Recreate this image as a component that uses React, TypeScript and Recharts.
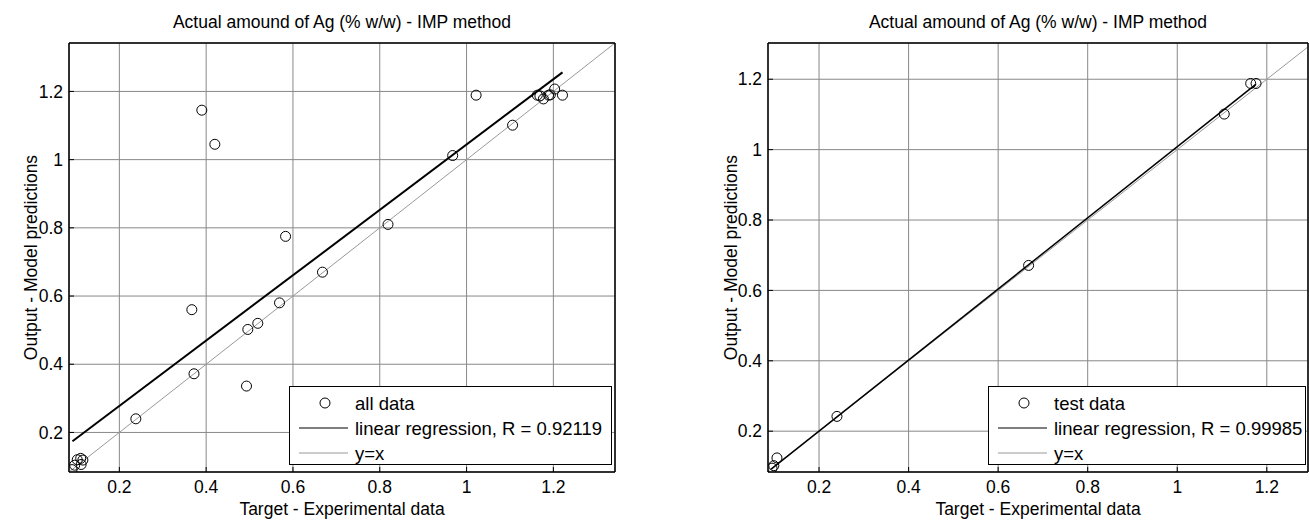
import React from 'react';
import { ComposedChart, Scatter, Line, XAxis, YAxis, CartesianGrid, Legend } from 'recharts';

const TITLE = 'Actual amound of Ag (% w/w) - IMP method';
const X_LABEL = 'Target - Experimental data';
const Y_LABEL = 'Output - Model predictions';

const ticks = [0.2, 0.4, 0.6, 0.8, 1, 1.2];

// left panel: all data
const allTarget = [0.091, 0.097, 0.103, 0.111, 0.116, 0.112, 0.238, 0.367, 0.372, 0.390, 0.420, 0.493, 0.496, 0.519, 0.569, 0.583, 0.668, 0.819, 0.968, 1.022, 1.106, 1.163, 1.169, 1.177, 1.189, 1.193, 1.203, 1.221];
const allOutput = [0.091, 0.104, 0.120, 0.124, 0.119, 0.106, 0.240, 0.560, 0.372, 1.145, 1.045, 0.336, 0.502, 0.520, 0.580, 0.775, 0.670, 0.810, 1.012, 1.189, 1.101, 1.189, 1.187, 1.178, 1.189, 1.190, 1.207, 1.189];
const allFitX = [0.092, 1.221];
const allFitY = [0.174, 1.256];
const allLimits = [0.084, 1.342];
const allR = '0.92119';

// right panel: test data
const testTarget = [0.095, 0.099, 0.106, 0.240, 0.668, 1.105, 1.164, 1.176];
const testOutput = [0.095, 0.102, 0.124, 0.242, 0.671, 1.101, 1.188, 1.188];
const testFitX = [0.093, 1.176];
const testFitY = [0.092, 1.186];
const testXLimits = [0.086, 1.292];
const testYLimits = [0.084, 1.303];
const testR = '0.99985';

const FONT = "'Liberation Sans', Arial, sans-serif";
const FS = 17.5;
const LEGEND_FS = 18.5;

const toPoints = (xs: number[], ys: number[]) => xs.map((x, i) => ({ x, y: ys[i] }));

const Circle = (p: any) => (
  <circle cx={p.cx} cy={p.cy} r={5} fill="none" stroke="#000" strokeWidth={1} />
);

function LegendBox({ name, r }: { name: string; r: string }) {
  const rows = [16, 41, 66];
  return (
    <div style={{ width: '100%', height: '100%', boxSizing: 'border-box', border: '1.5px solid #000', background: '#fff' }}>
      <svg width="100%" height="100%" style={{ display: 'block', fontFamily: FONT, fontSize: LEGEND_FS }}>
        <circle cx={35} cy={rows[0]} r={5} fill="none" stroke="#000" />
        <text x={65} y={rows[0]} dominantBaseline="central">{name}</text>
        <line x1={9} x2={58} y1={rows[1]} y2={rows[1]} stroke="#000" strokeWidth={1.2} />
        <text x={65} y={rows[1]} dominantBaseline="central">linear regression, R = {r}</text>
        <line x1={9} x2={58} y1={rows[2]} y2={rows[2]} stroke="#999" strokeWidth={1} />
        <text x={65} y={rows[2]} dominantBaseline="central">y=x</text>
      </svg>
    </div>
  );
}

const yLabel = (props: any) => {
  const vb = props.viewBox || { x: 0, y: 0, height: 0 };
  const cx = vb.x + 31;
  const cy = vb.y + vb.height / 2;
  return (
    <text x={cx} y={cy} transform={`rotate(-90 ${cx} ${cy})`} textAnchor="middle" dominantBaseline="central"
      style={{ fontFamily: FONT, fontSize: FS, fill: '#000' }}>
      {Y_LABEL}
    </text>
  );
};

type PanelProps = {
  left: number;
  width: number;
  yAxisWidth: number;
  marginRight: number;
  xLimits: number[];
  yLimits: number[];
  tx: number[];
  ty: number[];
  fx: number[];
  fy: number[];
  fitWidth: number;
  name: string;
  r: string;
  legend: { left: number; width: number };
};

function Panel(p: PanelProps) {
  const pts = toPoints(p.tx, p.ty);
  const fit = toPoints(p.fx, p.fy);
  const lo = Math.max(p.xLimits[0], p.yLimits[0]);
  const hi = Math.min(p.xLimits[1], p.yLimits[1]);
  const ident = toPoints([lo, hi], [lo, hi]);
  const plotLeft = p.yAxisWidth;
  const plotRight = p.width - p.marginRight - 1;
  const tickStyle = { fontFamily: FONT, fontSize: FS, fill: '#000' };
  const axisLine = { stroke: '#000', strokeWidth: 1.5 };
  return (
    <div style={{ position: 'absolute', left: p.left, top: 0, width: p.width, height: 523 }}>
      <div style={{ position: 'absolute', top: 12, left: plotLeft, width: plotRight - plotLeft, textAlign: 'center',
        fontFamily: FONT, fontSize: FS, lineHeight: '20px', whiteSpace: 'nowrap', zIndex: 2 }}>
        {TITLE}
      </div>
      <ComposedChart width={p.width} height={523} margin={{ top: 42, right: p.marginRight, bottom: 0, left: 0 }}>
        <CartesianGrid stroke="#888" strokeWidth={1} />
        <XAxis dataKey="x" type="number" domain={p.xLimits} allowDataOverflow ticks={ticks} height={51}
          tickSize={-5} tickMargin={14} tick={tickStyle} axisLine={axisLine} tickLine={{ stroke: '#000' }}
          label={{ value: X_LABEL, position: 'insideBottom', offset: 8, style: { fontFamily: FONT, fontSize: FS, fill: '#000' } }} />
        <XAxis xAxisId="top" orientation="top" type="number" domain={p.xLimits} allowDataOverflow ticks={ticks} height={1}
          tickSize={-5} tick={false} axisLine={axisLine} tickLine={{ stroke: '#000' }} />
        <YAxis dataKey="y" type="number" domain={p.yLimits} allowDataOverflow ticks={ticks} width={p.yAxisWidth}
          tickSize={-5} tickMargin={11} tick={tickStyle} axisLine={axisLine} tickLine={{ stroke: '#000' }}
          label={{ content: yLabel }} />
        <YAxis yAxisId="right" orientation="right" type="number" domain={p.yLimits} allowDataOverflow ticks={ticks} width={1}
          tickSize={-5} tick={false} axisLine={axisLine} tickLine={{ stroke: '#000' }} />
        <Line data={ident} dataKey="y" type="linear" stroke="#999" strokeWidth={1} dot={false} isAnimationActive={false} />
        <Line data={fit} dataKey="y" type="linear" stroke="#000" strokeWidth={p.fitWidth} dot={false} isAnimationActive={false} />
        <Scatter data={pts} dataKey="y" shape={Circle} isAnimationActive={false} />
        <Legend layout="vertical" align="center" verticalAlign="middle"
          wrapperStyle={{ left: p.legend.left, top: 386, width: p.legend.width, height: 79 }}
          content={() => <LegendBox name={p.name} r={p.r} />} />
      </ComposedChart>
    </div>
  );
}

export default function App() {
  return (
    <div style={{ position: 'absolute', left: 0, top: 0, width: 1309, height: 523, background: '#fff', overflow: 'hidden' }}>
      <Panel left={0} width={640} yAxisWidth={69} marginRight={24} xLimits={allLimits} yLimits={allLimits}
        tx={allTarget} ty={allOutput} fx={allFitX} fy={allFitY} fitWidth={2} name="all data" r={allR}
        legend={{ left: 289, width: 323 }} />
      <Panel left={700} width={609} yAxisWidth={68} marginRight={0} xLimits={testXLimits} yLimits={testYLimits}
        tx={testTarget} ty={testOutput} fx={testFitX} fy={testFitY} fitWidth={1.5} name="test data" r={testR}
        legend={{ left: 288, width: 318 }} />
    </div>
  );
}
